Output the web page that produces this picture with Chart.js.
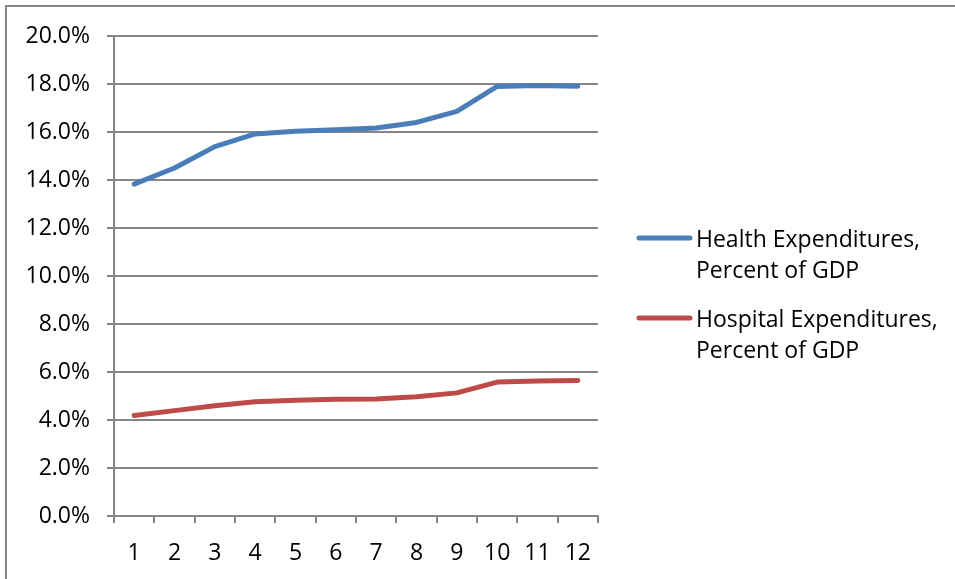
<!DOCTYPE html>
<html>
<head>
<meta charset="utf-8">
<script src="https://cdn.jsdelivr.net/npm/chart.js@4.4.1/dist/chart.umd.min.js"></script>
<style>
  html, body { margin: 0; padding: 0; background: #fff; }
  canvas { display: block; }
</style>
</head>
<body>
<canvas id="chart" width="955" height="579"></canvas>
<script>
// Year index along the horizontal axis
const categories = ['1', '2', '3', '4', '5', '6', '7', '8', '9', '10', '11', '12'];

// Spending as a share of GDP, in percent
const healthExpenditures = [13.83, 14.50, 15.39, 15.92, 16.03, 16.09, 16.17, 16.40, 16.86, 17.90, 17.94, 17.91];
const hospitalExpenditures = [4.19, 4.39, 4.59, 4.76, 4.82, 4.86, 4.88, 4.97, 5.13, 5.58, 5.63, 5.65];

// Legend text, one entry per series, split into lines
const seriesLabels = [
  ['Health Expenditures,', 'Percent of GDP'],
  ['Hospital Expenditures,', 'Percent of GDP']
];

const FONT = '"Open Sans", "Noto Sans", sans-serif';
const FONT_SIZE = 23;
const GRID = '#868686';

// Outer frame around the chart
const framePlugin = {
  id: 'frame',
  beforeDraw(chart) {
    const ctx = chart.ctx;
    ctx.save();
    ctx.fillStyle = '#fff';
    ctx.fillRect(0, 0, chart.width, chart.height);
    ctx.strokeStyle = GRID;
    ctx.lineWidth = 2;
    ctx.beginPath();
    ctx.moveTo(6, chart.height + 5);
    ctx.lineTo(6, 6);
    ctx.lineTo(chart.width + 5, 6);
    ctx.stroke();
    ctx.restore();
  }
};

// Legend at the right with wrapped labels
const sideLegendPlugin = {
  id: 'sideLegend',
  afterDraw(chart, args, opts) {
    const ctx = chart.ctx;
    ctx.save();
    ctx.font = opts.fontSize + 'px ' + FONT;
    ctx.textBaseline = 'middle';
    ctx.fillStyle = '#000';
    chart.data.datasets.forEach((ds, i) => {
      const y0 = opts.top + i * opts.entryGap;
      ctx.strokeStyle = ds.borderColor;
      ctx.lineWidth = ds.borderWidth;
      ctx.lineCap = 'round';
      ctx.beginPath();
      ctx.moveTo(opts.lineX0, y0);
      ctx.lineTo(opts.lineX1, y0);
      ctx.stroke();
      ds.label.forEach((line, j) => {
        ctx.fillText(line, opts.textX, y0 + 2 + j * opts.lineGap);
      });
    });
    ctx.restore();
  }
};

new Chart(document.getElementById('chart'), {
  type: 'line',
  data: {
    labels: categories,
    datasets: [
      {
        label: seriesLabels[0],
        data: healthExpenditures,
        borderColor: '#4A7EBB',
        borderWidth: 5,
        pointRadius: 0,
        tension: 0,
        borderCapStyle: 'round',
        borderJoinStyle: 'round'
      },
      {
        label: seriesLabels[1],
        data: hospitalExpenditures,
        borderColor: '#BE4B48',
        borderWidth: 5,
        pointRadius: 0,
        tension: 0,
        borderCapStyle: 'round',
        borderJoinStyle: 'round'
      }
    ]
  },
  options: {
    responsive: false,
    animation: false,
    layout: { padding: { left: 0, top: 36, right: 357, bottom: 0 } },
    plugins: {
      legend: { display: false },
      tooltip: { enabled: false },
      sideLegend: {
        top: 238, entryGap: 80, lineGap: 31,
        lineX0: 639, lineX1: 690, textX: 696, fontSize: FONT_SIZE
      }
    },
    scales: {
      x: {
        offset: true,
        grid: {
          offset: true,
          drawOnChartArea: false,
          drawTicks: true,
          tickLength: 7,
          color: GRID,
          lineWidth: 2
        },
        border: { color: GRID, width: 2 },
        ticks: {
          color: '#000',
          font: { family: FONT, size: FONT_SIZE },
          padding: 17,
          maxRotation: 0,
          autoSkip: false
        },
        afterFit(scale) { scale.height = 63; }
      },
      y: {
        min: 0,
        max: 20,
        grid: {
          color: GRID,
          lineWidth: 2,
          tickLength: 7
        },
        border: { color: GRID, width: 2 },
        ticks: {
          stepSize: 2,
          color: '#000',
          font: { family: FONT, size: FONT_SIZE },
          padding: 17,
          callback: v => v.toFixed(1) + '%'
        },
        afterFit(scale) { scale.width = 114; }
      }
    }
  },
  plugins: [framePlugin, sideLegendPlugin]
});
</script>
</body>
</html>
